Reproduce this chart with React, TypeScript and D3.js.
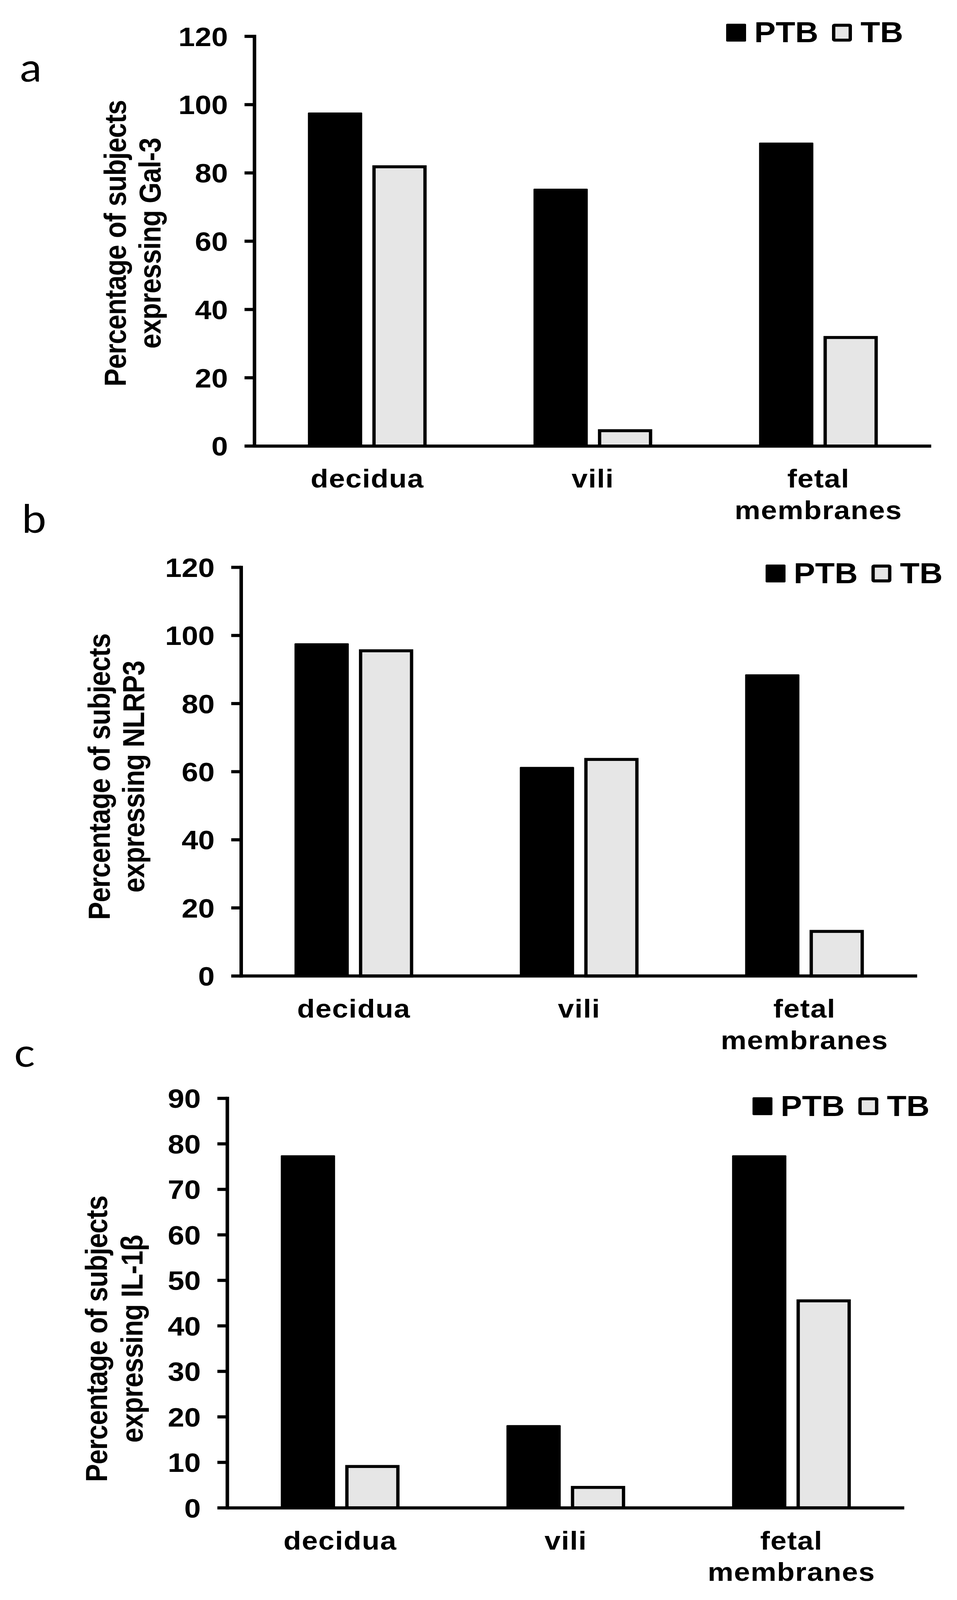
import React, { useEffect, useState } from 'react';
import * as d3 from 'd3';

// ---------- data ----------
const categories = ['decidua', 'vili', 'fetal membranes'];
const categoryLines = [['decidua'], ['vili'], ['fetal', 'membranes']];
const seriesNames = ['PTB', 'TB'];

const gal3PTB = [97.7, 75.4, 88.9];
const gal3TB = [81.8, 4.5, 31.8];

const nlrp3PTB = [97.7, 61.4, 88.6];
const nlrp3TB = [95.5, 63.6, 13.1];

const il1bPTB = [77.5, 18.2, 77.5];
const il1bTB = [9.1, 4.5, 45.5];

const ticksGal3 = [0, 20, 40, 60, 80, 100, 120];
const ticksNLRP3 = [0, 20, 40, 60, 80, 100, 120];
const ticksIL1b = [0, 10, 20, 30, 40, 50, 60, 70, 80, 90];

const titleLine1 = 'Percentage of subjects';
const titleGal3 = 'expressing Gal-3';
const titleNLRP3 = 'expressing NLRP3';
const titleIL1b = 'expressing IL-1β';

const panelLetters = ['a', 'b', 'c'];

// ---------- layout ----------
const W = 2450;
const H = 4577;
const BOLD = "'Liberation Sans', Arial, Helvetica, sans-serif";
const LETTER_FONT = "Lato, 'Open Sans', sans-serif";
const LIGHT = '#e6e6e6';

const panels = [
  {
    letter: panelLetters[0], ptb: gal3PTB, tb: gal3TB, ticks: ticksGal3, title2: titleGal3,
    axisX: 651.5, axisEnd: 2384, topY: 104, zeroY: 1276,
    letterX: 51, letterY: 234, titleX1: 322, titleX2: 411, titleY: 696,
    legendX: 1859, legendY: 121,
  },
  {
    letter: panelLetters[1], ptb: nlrp3PTB, tb: nlrp3TB, ticks: ticksNLRP3, title2: titleNLRP3,
    axisX: 617.5, axisEnd: 2348, topY: 1623, zeroY: 2792,
    letterX: 56, letterY: 1524, titleX1: 281, titleX2: 369, titleY: 2222,
    legendX: 1960, legendY: 1668,
  },
  {
    letter: panelLetters[2], ptb: il1bPTB, tb: il1bTB, ticks: ticksIL1b, title2: titleIL1b,
    axisX: 582, axisEnd: 2315, topY: 3142, zeroY: 4313.5,
    letterX: 36, letterY: 3052, titleX1: 274, titleX2: 365, titleY: 3830,
    legendX: 1926.5, legendY: 3192,
  },
];

const AXIS_W = 9;
const TICK_LEN = 25.5;
const BAR_STROKE = 8.5;
const GROUP_W = 304;

function Panel({ p }: { p: any }) {
  const maxV = p.ticks[p.ticks.length - 1];
  const y = d3.scaleLinear().domain([0, maxV]).range([p.zeroY, p.topY]);
  const x0 = d3.scaleBand<string>().domain(categories).range([p.axisX, p.axisEnd]).paddingInner(0).paddingOuter(0);
  const x1 = d3.scaleBand<string>().domain(seriesNames).range([0, GROUP_W]).paddingInner(0.1576).paddingOuter(0);
  const groupStart = (c: string) => (x0(c) as number) + x0.bandwidth() / 2 - GROUP_W / 2;
  const bw = x1.bandwidth();

  return (
    <g>
      <text x={p.letterX} y={p.letterY} fontFamily={LETTER_FONT} fontSize={112} fill="#000">{p.letter}</text>

      <text transform={`translate(${p.titleX1},${p.titleY}) rotate(-90)`} textAnchor="middle"
        fontFamily={BOLD} fontWeight="bold" fontSize={77} letterSpacing={-1.1}>{titleLine1}</text>
      <text transform={`translate(${p.titleX2},${p.titleY}) rotate(-90)`} textAnchor="middle"
        fontFamily={BOLD} fontWeight="bold" fontSize={77} letterSpacing={-1.1}>{p.title2}</text>

      {categories.map((c, i) => {
        const gx = groupStart(c);
        const xP = gx + (x1('PTB') as number);
        const xT = gx + (x1('TB') as number);
        const yP = y(p.ptb[i]);
        const yT = y(p.tb[i]);
        return (
          <g key={c}>
            <rect x={xP} y={yP} width={bw} height={p.zeroY - yP} fill="#000" rx={2} />
            <rect x={xT + BAR_STROKE / 2} y={yT} width={bw - BAR_STROKE} height={p.zeroY - yT}
              fill={LIGHT} stroke="#000" strokeWidth={BAR_STROKE} />
          </g>
        );
      })}

      <line x1={p.axisX} x2={p.axisX} y1={y(maxV) - AXIS_W / 2} y2={p.zeroY + AXIS_W / 2}
        stroke="#000" strokeWidth={AXIS_W} />
      {p.ticks.map((t: number) => (
        <g key={t}>
          <line x1={p.axisX - TICK_LEN} x2={p.axisX} y1={y(t)} y2={y(t)} stroke="#000" strokeWidth={AXIS_W} />
          <text x={p.axisX - 68} y={y(t)} dy="0.36em" textAnchor="end" fontFamily={BOLD}
            fontWeight="bold" fontSize={76}>{t}</text>
        </g>
      ))}
      <line x1={p.axisX} x2={p.axisEnd} y1={p.zeroY} y2={p.zeroY} stroke="#000" strokeWidth={AXIS_W} />

      {categories.map((c, i) => (
        <text key={c} textAnchor="middle" fontFamily={BOLD} fontWeight="bold" fontSize={74} letterSpacing={1.5}>
          {categoryLines[i].map((ln, j) => (
            <tspan key={j} x={(x0(c) as number) + x0.bandwidth() / 2} y={p.zeroY + 119 + j * 90}>{ln}</tspan>
          ))}
        </text>
      ))}

      <g>
        <rect x={p.legendX} y={p.legendY - 53} width={51} height={51} fill="#000" rx={3} />
        <text x={p.legendX + 72} y={p.legendY} fontFamily={BOLD} fontWeight="bold" fontSize={82}>{seriesNames[0]}</text>
        <rect x={p.legendX + 271 + 4.25} y={p.legendY - 53 + 4.25} width={42.5} height={42.5}
          fill={LIGHT} stroke="#000" strokeWidth={8.5} rx={2} />
        <text x={p.legendX + 344} y={p.legendY} fontFamily={BOLD} fontWeight="bold" fontSize={82}>{seriesNames[1]}</text>
      </g>
    </g>
  );
}

function viewportHeight() {
  if (typeof window === 'undefined' || !window.innerHeight) return H;
  return Math.min(H, window.innerHeight);
}

export default function App() {
  const [vh, setVh] = useState<number>(viewportHeight());
  useEffect(() => {
    const onResize = () => setVh(viewportHeight());
    window.addEventListener('resize', onResize);
    return () => window.removeEventListener('resize', onResize);
  }, []);
  return (
    <div style={{ position: 'absolute', left: 0, top: 0, width: W, height: vh, background: '#fff', overflow: 'hidden' }}>
      <svg width={W} height={vh} viewBox={`0 0 ${W} ${H}`} preserveAspectRatio="none" style={{ display: 'block' }}>
        <rect x={0} y={0} width={W} height={H} fill="#fff" />
        {panels.map((p) => <Panel key={p.letter} p={p} />)}
      </svg>
    </div>
  );
}
